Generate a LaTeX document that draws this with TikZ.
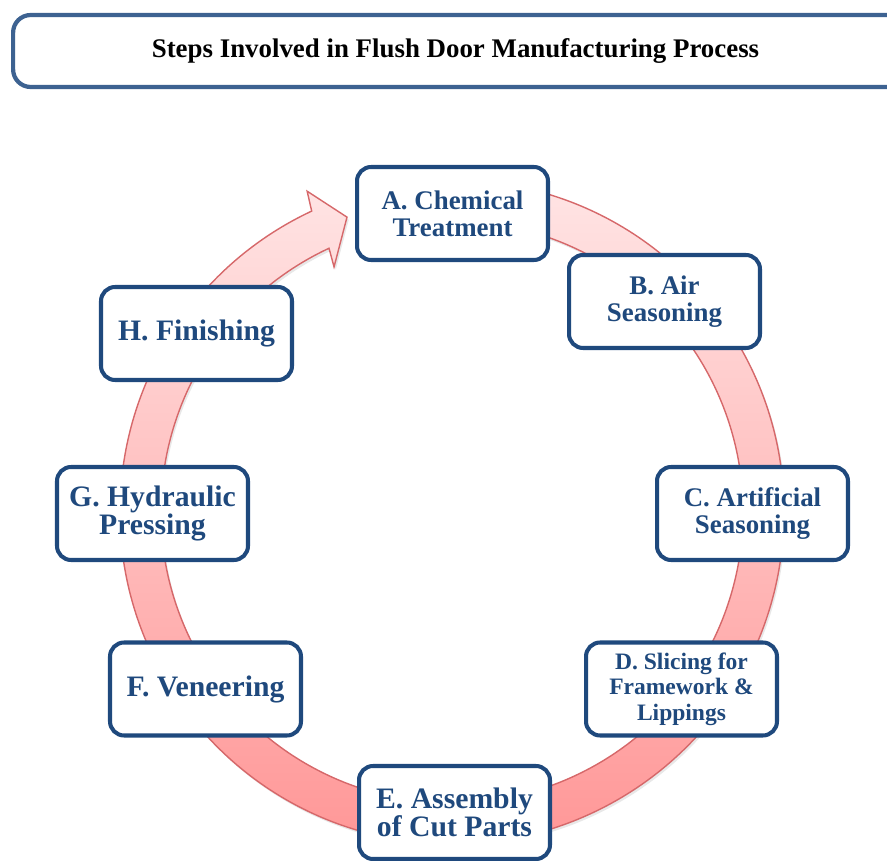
\documentclass[tikz,border=0pt]{standalone}
\usepackage{fontspec}
\setmainfont{Liberation Serif}
\usetikzlibrary{shadows}

\definecolor{stepblue}{RGB}{31,73,125}
\definecolor{titleblue}{RGB}{61,98,145}
\definecolor{ringtop}{RGB}{255,228,228}
\definecolor{ringbottom}{RGB}{255,148,148}
\definecolor{ringline}{RGB}{214,104,106}

\begin{document}
\begin{tikzpicture}[
        x=0.02cm, y=0.02cm,
        titlebox/.style={rectangle, rounded corners=10pt, draw=titleblue, line width=2.4pt, fill=white, minimum width=18.2cm, minimum height=1.44cm, font=\fontsize{15.3}{16}\selectfont\bfseries},
        stepnode/.style={rectangle, rounded corners=8pt, draw=stepblue, line width=2.3pt, fill=white, text=stepblue, align=center, minimum width=3.82cm, minimum height=1.86cm, font=\fontsize{15.3}{15.5}\selectfont\bfseries},
        bigtext/.style={font=\fontsize{16.9}{16.2}\selectfont\bfseries},
        ringarrow/.style={top color=ringtop, bottom color=ringbottom, draw=ringline, line width=0.8pt, drop shadow={opacity=0.18, shadow xshift=1pt, shadow yshift=-1.5pt}}
    ]
    \useasboundingbox (0,0) rectangle (887,860);

    % Title (box runs past the right edge)
    \node[titlebox, anchor=west] (title) at (11,809) {Steps Involved in Flush Door Manufacturing Process\hspace*{0.5cm}};

    % Circular arrow behind the steps
    \begin{scope}[shift={(452,348)}]
        \shade[ringarrow] (80:332) arc[start angle=80, end angle=-245, radius=332]
            -- (-245.7:352) -- (-250.4:313) -- (-244.3:272) -- (-245:291)
            arc[start angle=-245, end angle=80, radius=291] -- cycle;
    \end{scope}

    % Steps
    \node[stepnode] (stepA) at (452.5,646.5) {A. Chemical\\Treatment};
    \node[stepnode] (stepB) at (664.5,558.5) {B. Air\\Seasoning};
    \node[stepnode] (stepC) at (752.5,346.5) {C. Artificial\\Seasoning};
    \node[stepnode, font=\fontsize{13.4}{14.6}\selectfont\bfseries] (stepD) at (681.5,171) {D. Slicing for\\Framework \&\\Lippings};
    \node[stepnode, bigtext] (stepE) at (454.5,47.5) {E. Assembly\\of Cut Parts};
    \node[stepnode, bigtext] (stepF) at (205.5,171) {F. Veneering};
    \node[stepnode, bigtext] (stepG) at (152.5,346.5) {G. Hydraulic\\Pressing};
    \node[stepnode, bigtext] (stepH) at (196.5,526.5) {H. Finishing};

\end{tikzpicture}
\end{document}
